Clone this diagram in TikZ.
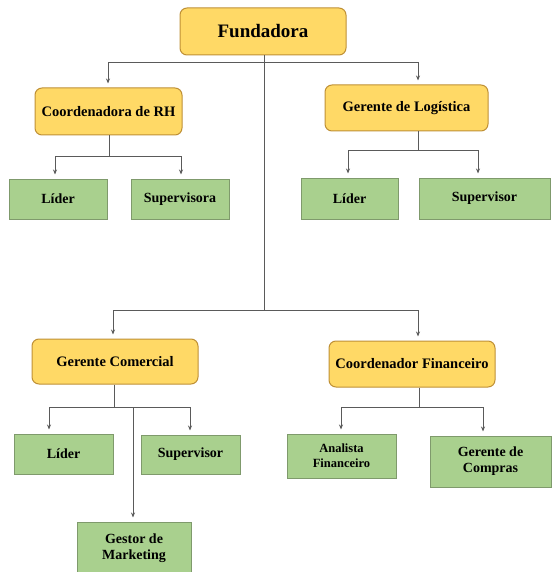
\documentclass[tikz,border=0pt]{standalone}
\usepackage{fontspec}
\setmainfont{Liberation Serif}
\usetikzlibrary{arrows.meta,calc}
\definecolor{yfill}{HTML}{FFD966}
\definecolor{ybord}{HTML}{BF9036}
\definecolor{gfill}{HTML}{A9D08E}
\definecolor{gbord}{HTML}{7F9A6C}
\definecolor{lgray}{HTML}{5A5A5A}
\begin{document}
\begin{tikzpicture}[x=1pt,y=-1pt,
  boss/.style={draw=ybord, fill=yfill, rounded corners=7pt, line width=1pt, inner sep=0pt,
    font=\bfseries\fontsize{14.5}{16}\selectfont, align=center},
  leaf/.style={draw=gbord, fill=gfill, line width=1pt, inner sep=0pt,
    font=\bfseries\fontsize{14}{16}\selectfont, align=center},
  conn/.style={draw=lgray, line width=0.8pt},
  arr/.style={conn, -{Stealth[length=5pt,width=4pt]}, shorten >=4pt}]
\useasboundingbox (0,0) rectangle (551,572);

% nodes
\node[boss, minimum width=166pt, minimum height=47pt, font=\bfseries\fontsize{19}{22}\selectfont] (F) at (263,31.5) {Fundadora};
\node[boss, minimum width=147pt, minimum height=47pt] (RH) at (108.5,111.5) {Coordenadora de RH};
\node[boss, minimum width=163pt, minimum height=46pt] (LG) at (406.5,108) {Gerente de Logística};
\node[leaf, minimum width=98pt, minimum height=40pt] (L1) at (58,199) {Líder};
\node[leaf, minimum width=98pt, minimum height=40pt] (S1) at (180,199) {Supervisora};
\node[leaf, minimum width=97pt, minimum height=41pt] (L2) at (349.5,198.5) {Líder};
\node[leaf, minimum width=131pt, minimum height=41pt] (S2) at (484.5,198.5) {Supervisor};
\node[boss, minimum width=166pt, minimum height=45pt] (GC) at (115,361.5) {Gerente Comercial};
\node[boss, minimum width=166pt, minimum height=46pt] (CF) at (412,364) {Coordenador Financeiro};
\node[leaf, minimum width=99pt, minimum height=40pt] (L3) at (63.5,454) {Líder};
\node[leaf, minimum width=99pt, minimum height=39pt] (S3) at (190.5,454.5) {Supervisor};
\node[leaf, minimum width=114pt, minimum height=52pt] (GM) at (134,548) {Gestor de\\Marketing};
\node[leaf, minimum width=109pt, minimum height=44pt, font=\bfseries\fontsize{12.5}{15}\selectfont] (AF) at (341.5,456) {Analista\\Financeiro};
\node[leaf, minimum width=121pt, minimum height=51pt] (GP) at (490.5,461.5) {Gerente de\\Compras};

% junction coordinates
\coordinate (t1) at (264,62);
\coordinate (t2) at (264,310);
\coordinate (xRH) at (108,0);
\coordinate (xLG) at (418,0);
\coordinate (xGC) at (113,0);
\coordinate (xCF) at (418,0);
\coordinate (r1) at (109,156);
\coordinate (xL1) at (55,0);
\coordinate (xS1) at (181,0);
\coordinate (r2) at (418,150);
\coordinate (xL2) at (348,0);
\coordinate (xS2) at (478,0);
\coordinate (r3) at (114,407);
\coordinate (xL3) at (49,0);
\coordinate (xS3) at (190,0);
\coordinate (m3) at (133,407);
\coordinate (r4) at (419,407);
\coordinate (xAF) at (341,0);
\coordinate (xGP) at (483,0);

% trunk
\draw[conn] (F.south -| t1) -- (t2);
\draw[arr] (t1) -| (xRH |- RH.north);
\draw[arr] (t1) -| (xLG |- LG.north);
\draw[arr] (t2) -| (xGC |- GC.north);
\draw[arr] (t2) -| (xCF |- CF.north);

% RH
\draw[conn] (RH.south -| r1) -- (r1);
\draw[arr] (r1) -| (xL1 |- L1.north);
\draw[arr] (r1) -| (xS1 |- S1.north);
% Logistica
\draw[conn] (LG.south -| r2) -- (r2);
\draw[arr] (r2) -| (xL2 |- L2.north);
\draw[arr] (r2) -| (xS2 |- S2.north);
% Comercial
\draw[conn] (GC.south -| r3) -- (r3);
\draw[arr] (r3) -| (xL3 |- L3.north);
\draw[arr] (r3) -| (xS3 |- S3.north);
\draw[arr] (m3) -- (m3 |- GM.north);
% Financeiro
\draw[conn] (CF.south -| r4) -- (r4);
\draw[arr] (r4) -| (xAF |- AF.north);
\draw[arr] (r4) -| (xGP |- GP.north);
\end{tikzpicture}
\end{document}
